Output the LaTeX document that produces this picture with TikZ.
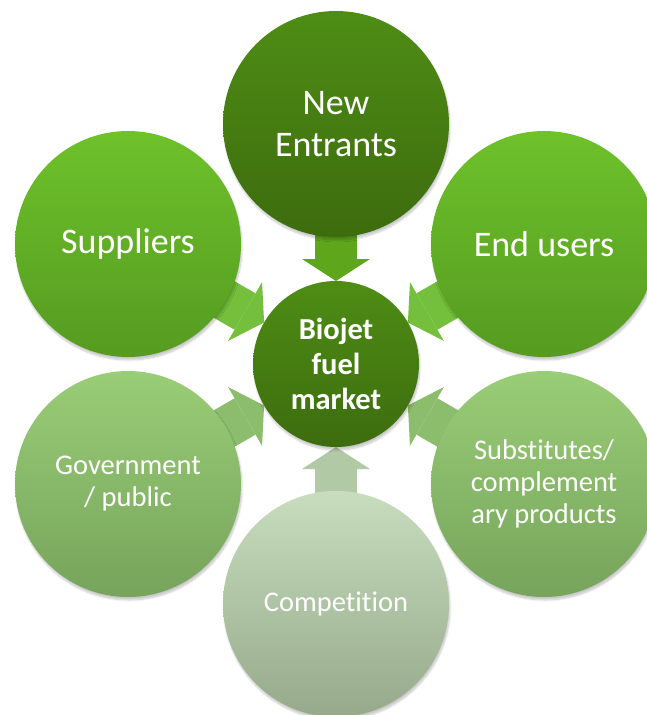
\documentclass[tikz,border=0pt]{standalone}
\usepackage{fontspec}
\setmainfont{Carlito}[Ligatures=CommonOff]
\usetikzlibrary{arrows.meta,backgrounds,shadows.blur}

% palette
\definecolor{deepTop}{HTML}{4E8D15}
\definecolor{deepBot}{HTML}{3D6C0E}
\definecolor{brightTop}{HTML}{6EC22B}
\definecolor{brightBot}{HTML}{559B20}
\definecolor{softTop}{HTML}{9ACD77}
\definecolor{softBot}{HTML}{76A45B}
\definecolor{paleTop}{HTML}{C7DDBD}
\definecolor{paleBot}{HTML}{96AA8B}
\definecolor{feedDeep}{HTML}{5EA61C}
\definecolor{feedBright}{HTML}{74BF3B}
\definecolor{feedSoft}{HTML}{8CBD6D}
\definecolor{feedPale}{HTML}{B2C9A6}

\begin{document}
\begin{tikzpicture}[x=1pt,y=1pt,
  softshadow/.style={blur shadow={shadow xshift=1pt, shadow yshift=-3pt,
      shadow opacity=22, shadow blur steps=6}},
  force/.style={circle, minimum size=226pt, inner sep=0pt, outer sep=0pt,
      text=white, align=center, softshadow},
  bigtext/.style={font=\fontsize{36}{42}\selectfont},
  smalltext/.style={font=\fontsize{28.5}{32}\selectfont},
  hubnode/.style={circle, minimum size=166pt, inner sep=0pt, outer sep=0pt,
      text=white, align=center, top color=deepTop, bottom color=deepBot,
      font=\bfseries\fontsize{30.5}{35}\selectfont, softshadow},
  feed/.style={line width=42pt, shorten <=-20pt,
      -{Triangle[width=68pt,length=22pt,line width=0pt]}}
]
\useasboundingbox (0,-715) rectangle (646,0);

% the six forces around the market
\node[force, bigtext, top color=deepTop, bottom color=deepBot]
  (entr) at (336,-124) {New\\Entrants};
\node[force, bigtext, top color=brightTop, bottom color=brightBot]
  (supp) at (128,-244) {Suppliers};
\node[force, bigtext, top color=brightTop, bottom color=brightBot]
  (user) at (544,-244) {End users};
\node[force, smalltext, top color=softTop, bottom color=softBot]
  (govt) at (128,-484) {Government\\/ public};
\node[force, smalltext, top color=softTop, bottom color=softBot]
  (subs) at (544,-484) {Substitutes/\\complement\\ary products};
\node[force, smalltext, top color=paleTop, bottom color=paleBot]
  (comp) at (336,-604) {Competition};

% the market itself
\node[hubnode] (hub) at (336,-364) {Biojet\\fuel\\market};

% block arrows pointing into the market
\begin{scope}[on background layer]
  \draw[feed, draw=feedDeep]   (entr) -- (hub);
  \draw[feed, draw=feedBright] (supp) -- (hub);
  \draw[feed, draw=feedBright] (user) -- (hub);
  \draw[feed, draw=feedSoft]   (govt) -- (hub);
  \draw[feed, draw=feedSoft]   (subs) -- (hub);
  \draw[feed, draw=feedPale]   (comp) -- (hub);
\end{scope}
\end{tikzpicture}
\end{document}
